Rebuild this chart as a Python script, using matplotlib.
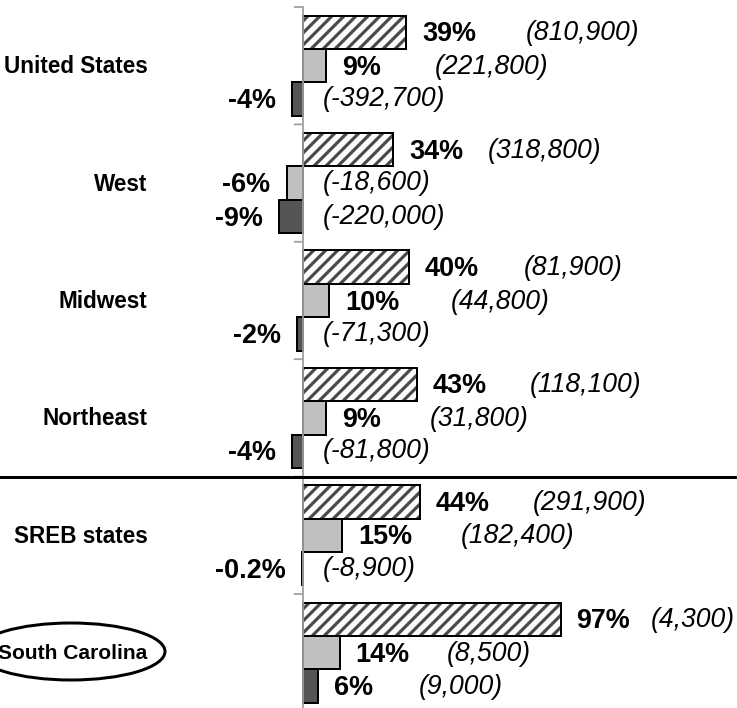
import matplotlib
matplotlib.use("Agg")
import matplotlib.pyplot as plt
from matplotlib.patches import Ellipse

# ---------------- data ----------------
regions = ["United States", "West", "Midwest", "Northeast", "SREB states", "South Carolina"]
pct_a = [39, 34, 40, 43, 44, 97]          # hatched series (%)
pct_b = [9, -6, 10, 9, 15, 14]            # light gray series (%)
pct_c = [-4, -9, -2, -4, -0.2, 6]         # dark gray series (%)
cnt_a = [810900, 318800, 81900, 118100, 291900, 4300]
cnt_b = [221800, -18600, 44800, 31800, 182400, 8500]
cnt_c = [-392700, -220000, -71300, -81800, -8900, 9000]

# layout helpers (gap in px between % label and count label, positive bars)
gap_a = [50, 25, 45, 43, 43, 20]
gap_b = [53, 0, 51, 48, 48, 37]
gap_c = [0, 0, 0, 0, 0, 45]
cat_sizes = [22.5, 22.5, 22.5, 22.5, 22.5, 21]

DPI = 72
W, H = 737, 708
plt.rcParams["font.family"] = ["Liberation Sans", "DejaVu Sans"]
plt.rcParams["hatch.linewidth"] = 3.2

fig = plt.figure(figsize=(W / DPI, H / DPI), dpi=DPI)
px_per = 2.66
x0 = 302.5
top, grp = 7, 117.4
ax_h = grp * 6
ax = fig.add_axes([0, (H - top - ax_h) / H, 1, ax_h / H])
ax.set_xlim(-x0 / px_per, (W - x0) / px_per)
ax.set_ylim(5.5, -0.5)
ax.axis("off")

bh = 0.285
offs = [-bh, 0, bh]
ys = list(range(len(regions)))

# hatched bars
ax.barh([y + offs[0] for y in ys], pct_a, height=bh, color="white",
        hatch="//", edgecolor="#4a4a4a", linewidth=0, zorder=2)
ax.barh([y + offs[0] for y in ys], pct_a, height=bh, fill=False,
        edgecolor="black", linewidth=2, zorder=3)
ax.barh([y + offs[1] for y in ys], pct_b, height=bh, color="#c0c0c0",
        edgecolor="black", linewidth=2, zorder=3)
ax.barh([y + offs[2] for y in ys], pct_c, height=bh, color="#555555",
        edgecolor="black", linewidth=2, zorder=3)

# vertical axis line with ticks
ax.plot([0, 0], [-0.5, 5.5], color="#a0a0a0", lw=1.8, zorder=4, clip_on=False)
for b in range(7):
    ax.annotate("", xy=(0, b - 0.5), xytext=(-8, 0), textcoords="offset points",
                xycoords="data", arrowprops=dict(arrowstyle="-", color="#a0a0a0", lw=1.8,
                                                 shrinkA=0, shrinkB=0))

# separator line
ax.axhline(3.5, color="black", lw=3, xmin=0, xmax=1, zorder=5)

# category labels (right edge ~147 px)
for y, name, fs in zip(ys, regions, cat_sizes):
    ax.annotate(name, xy=(0, y), xytext=(-155, -1), textcoords="offset points",
                ha="right", va="center", fontsize=fs, fontweight="bold")

# ellipse around South Carolina
el = Ellipse((71 / W, 1 - 651.5 / H), width=188 / W, height=57 / H,
             transform=fig.transFigure, fill=False, edgecolor="black", lw=3, zorder=6)
fig.add_artist(el)

def fmt_pct(v):
    return f"{v:g}%"

def fmt_cnt(v):
    return f"({v:,})"

for series, counts, gaps, off in [(pct_a, cnt_a, gap_a, offs[0]),
                                  (pct_b, cnt_b, gap_b, offs[1]),
                                  (pct_c, cnt_c, gap_c, offs[2])]:
    for y, v, c, g in zip(ys, series, counts, gaps):
        yc = y + off
        if v >= 0:
            t = ax.annotate(fmt_pct(v), xy=(v, yc), xytext=(16, -2),
                            textcoords="offset points", ha="left", va="center",
                            fontsize=27, fontweight="bold")
            ax.annotate(fmt_cnt(c), xy=(1, 0.5), xycoords=t, xytext=(g, 1),
                        textcoords="offset points", ha="left", va="center",
                        fontsize=26.5, fontstyle="italic")
        else:
            ax.annotate(fmt_pct(v), xy=(v, yc), xytext=(-16, -2),
                        textcoords="offset points", ha="right", va="center",
                        fontsize=27, fontweight="bold")
            ax.annotate(fmt_cnt(c), xy=(0, yc), xytext=(20, 0),
                        textcoords="offset points", ha="left", va="center",
                        fontsize=26.5, fontstyle="italic")

fig.savefig("out.png", dpi=DPI)
